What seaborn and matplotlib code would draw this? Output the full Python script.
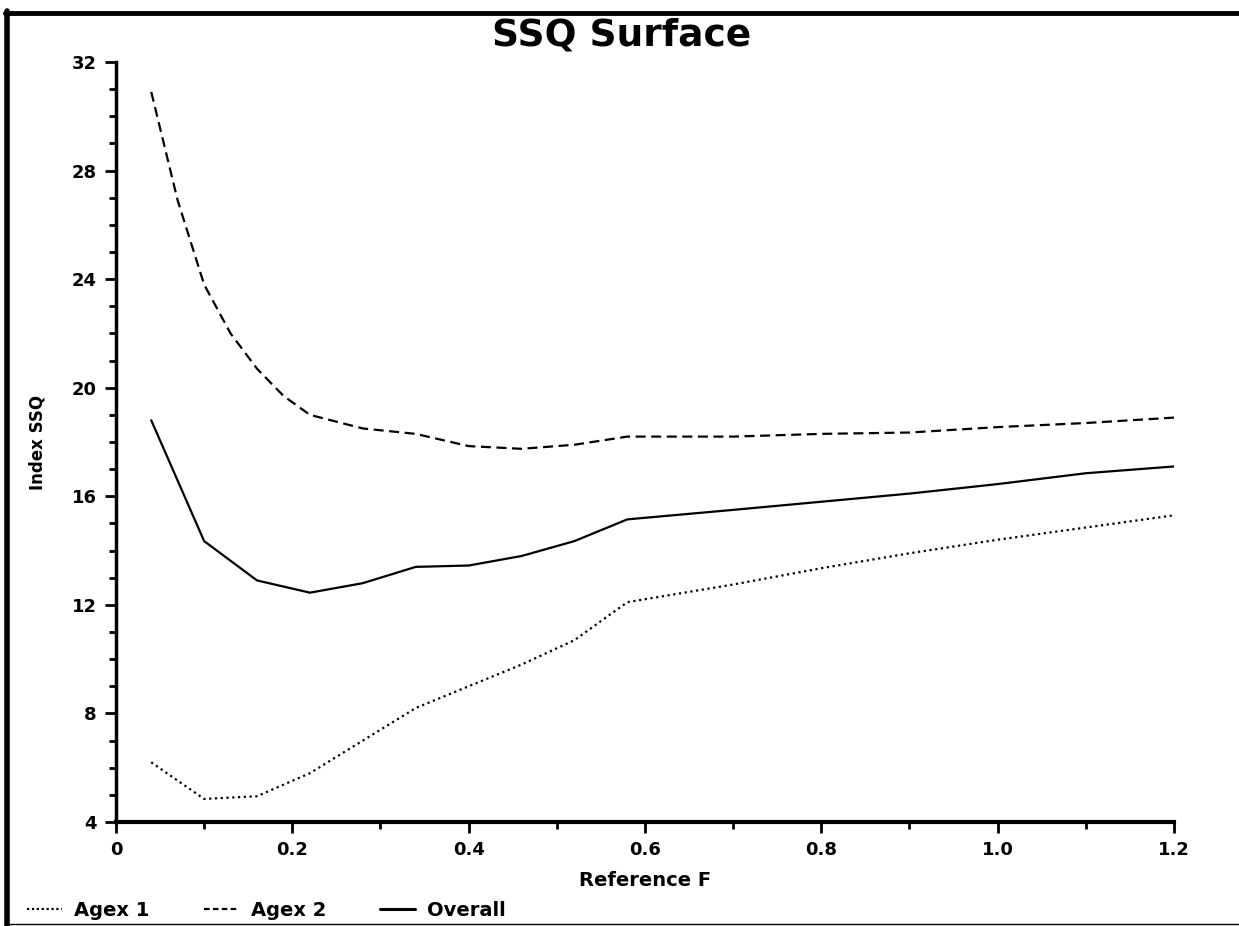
import pandas as pd
import seaborn as sns
import matplotlib.pyplot as plt
from matplotlib.lines import Line2D

# values
ref_f = [0.04, 0.10, 0.16, 0.22, 0.28, 0.34, 0.40, 0.46, 0.52, 0.58, 0.70, 0.80, 0.90, 1.00, 1.10, 1.20]
agex1 = [6.2, 4.85, 4.95, 5.8, 7.0, 8.2, 9.0, 9.8, 10.7, 12.1, 12.75, 13.35, 13.9, 14.4, 14.85, 15.3]
overall = [18.8, 14.35, 12.9, 12.45, 12.8, 13.4, 13.45, 13.8, 14.35, 15.15, 15.5, 15.8, 16.1, 16.45, 16.85, 17.1]
# Agex 2 bends more smoothly at the left, so it has a few extra readings
ref_f_agex2 = [0.04, 0.07, 0.10, 0.13, 0.16, 0.19, 0.22, 0.28, 0.34, 0.40, 0.46, 0.52, 0.58,
               0.70, 0.80, 0.90, 1.00, 1.10, 1.20]
agex2 = [30.9, 26.9, 23.8, 22.0, 20.7, 19.7, 19.0, 18.5, 18.3, 17.85, 17.75, 17.9, 18.2,
         18.2, 18.3, 18.35, 18.55, 18.7, 18.9]
series_names = ["Agex 1", "Agex 2", "Overall"]

df = pd.concat([
    pd.DataFrame({"Reference F": ref_f, "Index SSQ": agex1, "series": "Agex 1"}),
    pd.DataFrame({"Reference F": ref_f_agex2, "Index SSQ": agex2, "series": "Agex 2"}),
    pd.DataFrame({"Reference F": ref_f, "Index SSQ": overall, "series": "Overall"}),
], ignore_index=True)

sns.set_style("ticks", {"axes.edgecolor": "black", "text.color": "black", "axes.labelcolor": "black",
                        "xtick.color": "black", "ytick.color": "black"})
plt.rcParams['font.family'] = ['DejaVu Sans', 'DejaVu Sans Mono']
plt.rcParams['font.weight'] = 'bold'

fig = plt.figure(figsize=(12.39, 9.26), dpi=100)
ax = fig.add_axes([0.0936, 0.1123, 0.8539, 0.8207])

dash_map = {"Agex 1": (1, 1.6), "Agex 2": (4.5, 2.5), "Overall": ""}
sns.lineplot(data=df, x="Reference F", y="Index SSQ", style="series", dashes=dash_map,
             color="black", linewidth=1.6, ax=ax, legend=False)

ax.set_xlim(0, 1.2)
ax.set_ylim(4, 32)
ax.set_xticks([0, 0.2, 0.4, 0.6, 0.8, 1.0, 1.2])
ax.set_xticklabels(["0", "0.2", "0.4", "0.6", "0.8", "1.0", "1.2"])
ax.set_xticks([0.1, 0.3, 0.5, 0.7, 0.9, 1.1], minor=True)
ax.set_yticks([4, 8, 12, 16, 20, 24, 28, 32])
ax.set_yticks(range(4, 33), minor=True)
ax.tick_params(axis="both", which="major", length=8, width=2, labelsize=13, pad=6)
ax.tick_params(axis="both", which="minor", length=5, width=2)
for lab in ax.get_xticklabels() + ax.get_yticklabels():
    lab.set_fontweight("bold")

sns.despine(ax=ax)
ax.spines["left"].set_linewidth(2.5)
ax.spines["bottom"].set_linewidth(3)

ax.set_xlabel("Reference F", fontsize=14, fontweight="bold", labelpad=8, color="black")
ax.set_ylabel("Index SSQ", fontsize=12, fontweight="bold", labelpad=18, color="black")

fig.text(0.502, 0.962, "SSQ Surface", ha="center", va="center", fontsize=27,
         fontweight="bold")

# legend along the bottom
handles = [Line2D([], [], color="black", linewidth=1.6, dashes=(1, 1.2)),
           Line2D([], [], color="black", linewidth=1.6, dashes=(2.5, 1.5)),
           Line2D([], [], color="black", linewidth=2.2)]
fig.legend(handles, series_names, loc="lower left", bbox_to_anchor=(0.008, -0.012), ncol=3,
           frameon=False, handlelength=1.8, handletextpad=0.6, columnspacing=2.8,
           prop={"size": 14, "weight": "bold"})

# frame lines of the old screen
fig.add_artist(Line2D([0.006, 0.006], [0.0, 0.988], transform=fig.transFigure, color="black", linewidth=4))
fig.add_artist(Line2D([0.004, 1.0], [0.986, 0.986], transform=fig.transFigure, color="black", linewidth=3.5))
fig.add_artist(Line2D([0.004, 1.0], [0.002, 0.002], transform=fig.transFigure, color="black", linewidth=1))

fig.savefig("out.png", dpi=100)
